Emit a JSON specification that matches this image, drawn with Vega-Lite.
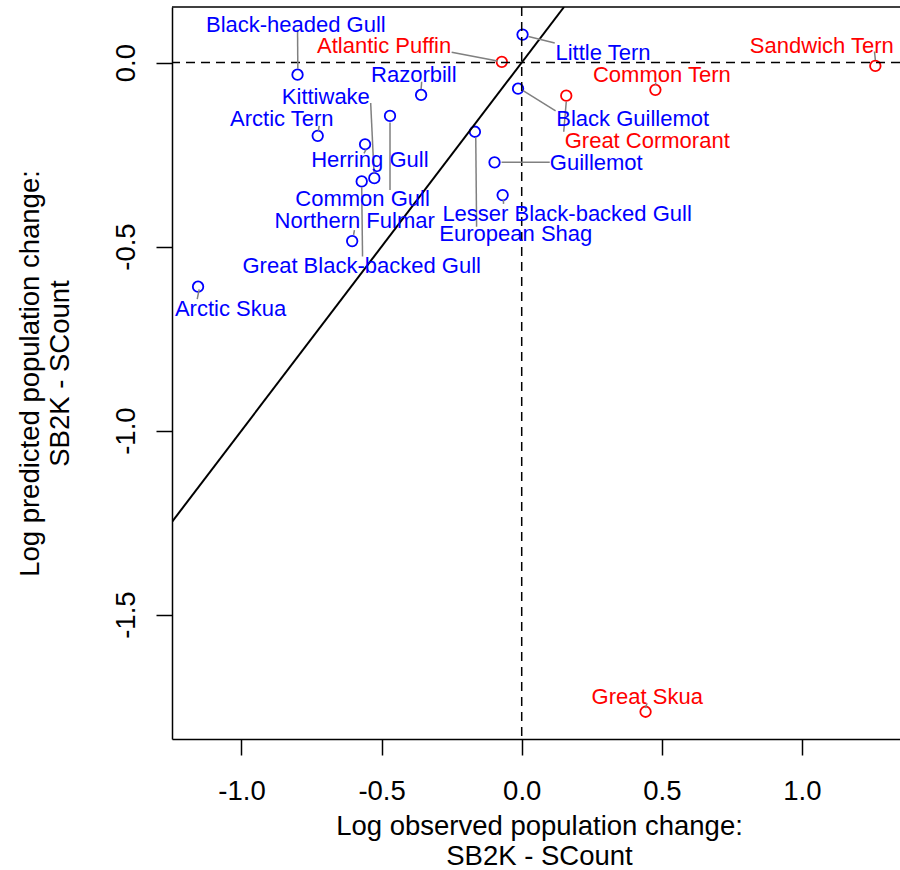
{
  "$schema": "https://vega.github.io/schema/vega-lite/v6.json",
  "width": 728,
  "height": 732,
  "autosize": {"type": "none"},
  "padding": {"left": 172, "top": 7, "right": 0, "bottom": 131},
  "background": "white",
  "config": {
    "view": {"stroke": null},
    "font": "Liberation Sans",
    "axis": {
      "grid": false,
      "domainColor": "#000000",
      "domainWidth": 1.5,
      "tickColor": "#000000",
      "tickWidth": 1.5,
      "tickSize": 16,
      "labelFont": "Liberation Sans",
      "labelFontSize": 27.5,
      "labelColor": "#000000",
      "titleFont": "Liberation Sans",
      "titleFontSize": 27.5,
      "titleFontWeight": "normal",
      "titleColor": "#000000",
      "titleLineHeight": 30
    }
  },
  "datasets": {
    "birds": [
      {"name": "Black-headed Gull", "group": "A", "x": -0.800, "y": -0.033, "lx": -0.806, "ly": 0.102, "sx": -0.799, "sy": -0.017, "ex": -0.800, "ey": 0.089},
      {"name": "Atlantic Puffin", "group": "B", "x": -0.071, "y": 0.002, "lx": -0.491, "ly": 0.045, "sx": -0.086, "sy": 0.004, "ex": -0.250, "ey": 0.028},
      {"name": "Razorbill", "group": "A", "x": -0.359, "y": -0.088, "lx": -0.385, "ly": -0.033, "sx": -0.359, "sy": -0.072, "ex": -0.357, "ey": -0.052},
      {"name": "Kittiwake", "group": "A", "x": -0.526, "y": -0.314, "lx": -0.699, "ly": -0.094, "sx": -0.527, "sy": -0.301, "ex": -0.539, "ey": -0.110},
      {"name": "Arctic Tern", "group": "A", "x": -0.728, "y": -0.199, "lx": -0.856, "ly": -0.154, "sx": -0.725, "sy": -0.186, "ex": -0.723, "ey": -0.172},
      {"name": "Herring Gull", "group": "A", "x": -0.559, "y": -0.222, "lx": -0.542, "ly": -0.266, "sx": -0.555, "sy": -0.236, "ex": -0.563, "ey": -0.247},
      {"name": "Common Gull", "group": "A", "x": -0.470, "y": -0.145, "lx": -0.568, "ly": -0.372, "sx": -0.470, "sy": -0.163, "ex": -0.470, "ey": -0.346},
      {"name": "Great Black-backed Gull", "group": "A", "x": -0.571, "y": -0.323, "lx": -0.571, "ly": -0.552, "sx": -0.571, "sy": -0.339, "ex": -0.568, "ey": -0.527},
      {"name": "Northern Fulmar", "group": "A", "x": -0.605, "y": -0.485, "lx": -0.596, "ly": -0.431, "sx": -0.600, "sy": -0.468, "ex": -0.597, "ey": -0.455},
      {"name": "European Shag", "group": "A", "x": -0.167, "y": -0.188, "lx": -0.021, "ly": -0.466, "sx": -0.164, "sy": -0.203, "ex": -0.161, "ey": -0.446},
      {"name": "Lesser Black-backed Gull", "group": "A", "x": -0.068, "y": -0.360, "lx": 0.162, "ly": -0.412, "sx": -0.065, "sy": -0.373, "ex": -0.065, "ey": -0.384},
      {"name": "Guillemot", "group": "A", "x": -0.097, "y": -0.271, "lx": 0.266, "ly": -0.273, "sx": -0.072, "sy": -0.271, "ex": 0.100, "ey": -0.271},
      {"name": "Little Tern", "group": "A", "x": 0.003, "y": 0.076, "lx": 0.290, "ly": 0.026, "sx": 0.024, "sy": 0.071, "ex": 0.118, "ey": 0.053},
      {"name": "Black Guillemot", "group": "A", "x": -0.013, "y": -0.071, "lx": 0.396, "ly": -0.154, "sx": 0.005, "sy": -0.076, "ex": 0.121, "ey": -0.131},
      {"name": "Great Cormorant", "group": "B", "x": 0.159, "y": -0.090, "lx": 0.448, "ly": -0.213, "sx": 0.159, "sy": -0.106, "ex": 0.150, "ey": -0.188},
      {"name": "Common Tern", "group": "B", "x": 0.477, "y": -0.074, "lx": 0.500, "ly": -0.035, "sx": 0.478, "sy": -0.061, "ex": 0.478, "ey": -0.054},
      {"name": "Sandwich Tern", "group": "B", "x": 1.262, "y": -0.009, "lx": 1.071, "ly": 0.044, "sx": 1.262, "sy": 0.007, "ex": 1.259, "ey": 0.030},
      {"name": "Great Skua", "group": "B", "x": 0.442, "y": -1.764, "lx": 0.448, "ly": -1.723, "sx": 0.442, "sy": -1.754, "ex": 0.447, "ey": -1.741},
      {"name": "Arctic Skua", "group": "A", "x": -1.155, "y": -0.609, "lx": -1.039, "ly": -0.669, "sx": -1.151, "sy": -0.616, "ex": -1.158, "ey": -0.643}
    ]
  },
  "layer": [
    {
      "data": {"name": "birds"},
      "mark": {"type": "point", "shape": "circle", "filled": false, "size": 110, "strokeWidth": 1.8, "opacity": 1},
      "encoding": {
        "x": {
          "field": "x", "type": "quantitative",
          "scale": {"domain": [-1.248, 1.35], "nice": false, "zero": false},
          "axis": {
            "values": [-1, -0.5, 0, 0.5, 1],
            "labelExpr": "(datum.value < 0 ? '-' : '') + format(abs(datum.value), '.1f')",
            "labelBaseline": "alphabetic",
            "labelPadding": 44,
            "title": ["Log observed population change:", "SB2K - SCount"],
            "titleBaseline": "alphabetic",
            "titleX": 367,
            "titleY": 95,
            "domain": true
          }
        },
        "y": {
          "field": "y", "type": "quantitative",
          "scale": {"domain": [-1.838, 0.151], "nice": false, "zero": false},
          "axis": {
            "values": [-1.5, -1, -0.5, 0],
            "labelExpr": "(datum.value < 0 ? '-' : '') + format(abs(datum.value), '.1f')",
            "labelAngle": -90,
            "labelAlign": "center",
            "labelBaseline": "alphabetic",
            "labelPadding": 22,
            "title": ["Log predicted population change:", "SB2K - SCount"],
            "titleAngle": -90,
            "titleBaseline": "alphabetic",
            "titleAlign": "center",
            "titleX": -134,
            "domain": true
          }
        },
        "color": {"field": "group", "type": "nominal", "scale": {"domain": ["A", "B"], "range": ["#0000ff", "#ff0000"]}, "legend": null}
      }
    },
    {
      "data": {"values": [{}]},
      "mark": {"type": "rule", "color": "#000000", "strokeWidth": 1.5, "strokeDash": [9, 6]},
      "encoding": {"y": {"datum": 0, "type": "quantitative"}}
    },
    {
      "data": {"values": [{}]},
      "mark": {"type": "rule", "color": "#000000", "strokeWidth": 1.5, "strokeDash": [9, 6]},
      "encoding": {"x": {"datum": 0, "type": "quantitative"}}
    },
    {
      "data": {"values": [{}]},
      "mark": {"type": "rule", "color": "#000000", "strokeWidth": 1.5},
      "encoding": {"y": {"datum": 0.151, "type": "quantitative"}}
    },
    {
      "data": {"values": [{"ax": -1.248, "ay": -1.248, "bx": 0.151, "by": 0.151}]},
      "mark": {"type": "rule", "color": "#000000", "strokeWidth": 2, "clip": true},
      "encoding": {
        "x": {"field": "ax", "type": "quantitative"},
        "y": {"field": "ay", "type": "quantitative"},
        "x2": {"field": "bx"},
        "y2": {"field": "by"}
      }
    },
    {
      "data": {"name": "birds"},
      "mark": {"type": "rule", "color": "#808080", "strokeWidth": 1.5},
      "encoding": {
        "x": {"field": "sx", "type": "quantitative"},
        "y": {"field": "sy", "type": "quantitative"},
        "x2": {"field": "ex"},
        "y2": {"field": "ey"}
      }
    },
    {
      "data": {"name": "birds"},
      "mark": {"type": "text", "fontSize": 22, "font": "Liberation Sans", "align": "center", "baseline": "middle"},
      "encoding": {
        "x": {"field": "lx", "type": "quantitative"},
        "y": {"field": "ly", "type": "quantitative"},
        "text": {"field": "name", "type": "nominal"},
        "color": {"field": "group", "type": "nominal", "scale": {"domain": ["A", "B"], "range": ["#0000ff", "#ff0000"]}, "legend": null}
      }
    }
  ]
}
